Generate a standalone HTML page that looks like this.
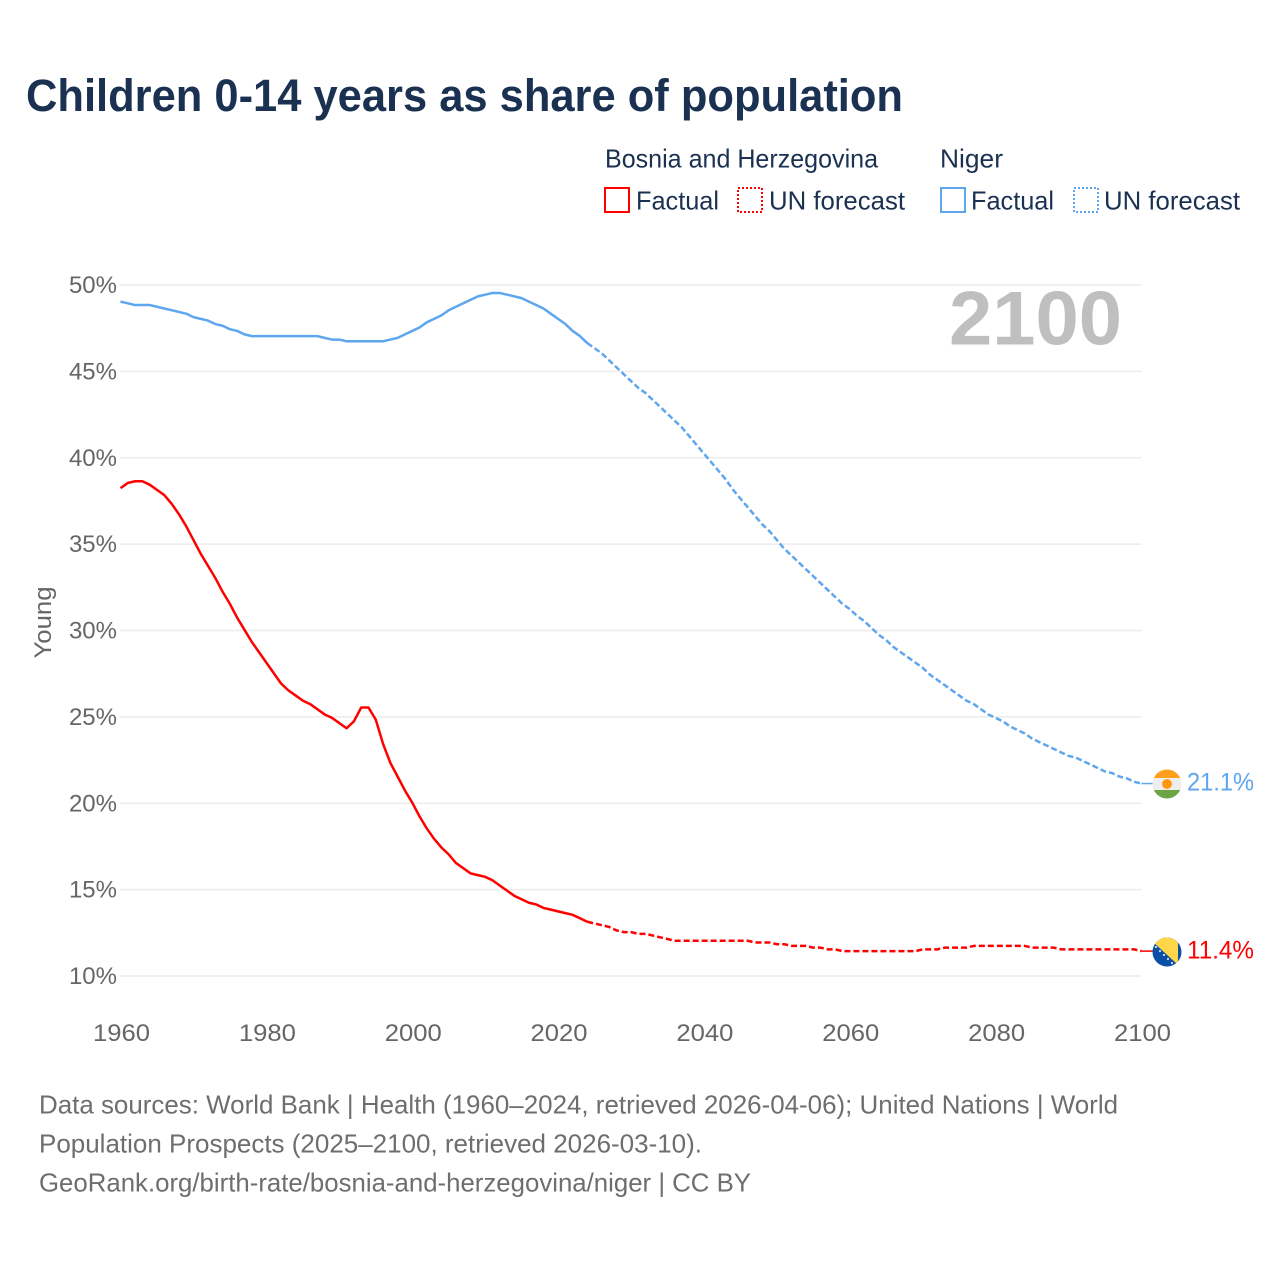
<!DOCTYPE html>
<html lang="en">
<head>
<meta charset="utf-8">
<title>Children 0-14 years as share of population</title>
<style>
html,body{margin:0;padding:0;background:#fff;}
svg{display:block;font-family:"Liberation Sans",Arial,sans-serif;}
</style>
</head>
<body>
<svg id="chart" xmlns="http://www.w3.org/2000/svg" width="1280" height="1280" viewBox="0 0 1280 1280">
  <rect width="1280" height="1280" fill="#ffffff"/>
  <text x="26" y="111" font-size="45" font-weight="700" fill="#1a3152" textLength="877" lengthAdjust="spacingAndGlyphs">Children 0-14 years as share of population</text>

  <g font-size="26" fill="#1a3152">
    <text x="605" y="167.5" textLength="273" lengthAdjust="spacingAndGlyphs">Bosnia and Herzegovina</text>
    <text x="940" y="167.5" textLength="63" lengthAdjust="spacingAndGlyphs">Niger</text>
    <rect x="605" y="188" width="24" height="24" fill="none" stroke="#ff0000" stroke-width="2"/>
    <text x="636" y="209.5" textLength="83" lengthAdjust="spacingAndGlyphs">Factual</text>
    <rect x="738" y="188" width="24" height="24" fill="none" stroke="#ff0000" stroke-width="2" stroke-dasharray="2 2"/>
    <text x="769" y="209.5" textLength="136" lengthAdjust="spacingAndGlyphs">UN forecast</text>
    <rect x="941" y="188" width="24" height="24" fill="none" stroke="#5ea6ee" stroke-width="2"/>
    <text x="971" y="209.5" textLength="83" lengthAdjust="spacingAndGlyphs">Factual</text>
    <rect x="1074" y="188" width="24" height="24" fill="none" stroke="#5ea6ee" stroke-width="2" stroke-dasharray="2 2"/>
    <text x="1104" y="209.5" textLength="136" lengthAdjust="spacingAndGlyphs">UN forecast</text>
  </g>

  <g id="grid"></g>
  <g id="yticks"></g>
  <g id="xticks"></g>
  <text transform="translate(51 622.5) rotate(-90)" text-anchor="middle" font-size="24" fill="#666666" textLength="72" lengthAdjust="spacingAndGlyphs">Young</text>
  <text x="949" y="344.5" font-size="76" font-weight="700" fill="#bfbfbf" textLength="173" lengthAdjust="spacingAndGlyphs">2100</text>

  <g id="series"></g>

  <defs>
    <clipPath id="flag-clip-niger"><circle cx="1167" cy="784" r="14.5"/></clipPath>
    <clipPath id="flag-clip-bosnia"><circle cx="1167" cy="952" r="14.5"/></clipPath>
  </defs>
  <g clip-path="url(#flag-clip-niger)">
    <rect x="1152" y="769" width="30" height="9" fill="#ff9f1c"/>
    <rect x="1152" y="778" width="30" height="12" fill="#eeeeee"/>
    <rect x="1152" y="790" width="30" height="9" fill="#6da544"/>
    <circle cx="1167" cy="784" r="5" fill="#ff9811"/>
  </g>
  <g clip-path="url(#flag-clip-bosnia)">
    <rect x="1152" y="937" width="30" height="30" fill="#0a4fa8"/>
    <polygon points="1153,937 1178,937 1178,964 1177,964 1153,942" fill="#ffd648"/>
    <g fill="#ffffff">
      <circle cx="1156" cy="947" r="1"/><circle cx="1160" cy="951" r="1"/><circle cx="1164" cy="955" r="1"/>
      <circle cx="1168" cy="959" r="1"/><circle cx="1172" cy="963" r="1"/>
    </g>
  </g>
  <g id="end-labels"></g>

  <g font-size="26" fill="#6e6e6e">
    <text x="39" y="1113.5" textLength="1079" lengthAdjust="spacingAndGlyphs">Data sources: World Bank | Health (1960–2024, retrieved 2026-04-06); United Nations | World</text>
    <text x="39" y="1152.5" textLength="663" lengthAdjust="spacingAndGlyphs">Population Prospects (2025–2100, retrieved 2026-03-10).</text>
    <text x="39" y="1191.5" textLength="712" lengthAdjust="spacingAndGlyphs">GeoRank.org/birth-rate/bosnia-and-herzegovina/niger | CC BY</text>
  </g>
</svg>
<script>
const startYear = 1960;
const lastFactualYear = 2024;
const yTickValues = [10, 15, 20, 25, 30, 35, 40, 45, 50];
const xTickYears = [1960, 1980, 2000, 2020, 2040, 2060, 2080, 2100];

const bosniaValues = [
38.2,38.5,38.6,38.6,38.4,38.1,37.8,37.3,36.7,36.0,
35.2,34.4,33.7,33.0,32.2,31.5,30.7,30.0,29.3,28.7,
28.1,27.5,26.9,26.5,26.2,25.9,25.7,25.4,25.1,24.9,
24.6,24.3,24.7,25.5,25.5,24.8,23.4,22.3,21.5,20.7,
20.0,19.2,18.5,17.9,17.4,17.0,16.5,16.2,15.9,15.8,
15.7,15.5,15.2,14.9,14.6,14.4,14.2,14.1,13.9,13.8,
13.7,13.6,13.5,13.3,13.1,13.0,12.9,12.8,12.6,12.5,
12.5,12.4,12.4,12.3,12.2,12.1,12.0,12.0,12.0,12.0,
12.0,12.0,12.0,12.0,12.0,12.0,12.0,11.9,11.9,11.9,
11.8,11.8,11.7,11.7,11.7,11.6,11.6,11.5,11.5,11.4,
11.4,11.4,11.4,11.4,11.4,11.4,11.4,11.4,11.4,11.4,
11.5,11.5,11.5,11.6,11.6,11.6,11.6,11.7,11.7,11.7,
11.7,11.7,11.7,11.7,11.7,11.6,11.6,11.6,11.6,11.5,
11.5,11.5,11.5,11.5,11.5,11.5,11.5,11.5,11.5,11.5,11.4];

const nigerValues = [
49.0,48.9,48.8,48.8,48.8,48.7,48.6,48.5,48.4,48.3,
48.1,48.0,47.9,47.7,47.6,47.4,47.3,47.1,47.0,47.0,
47.0,47.0,47.0,47.0,47.0,47.0,47.0,47.0,46.9,46.8,
46.8,46.7,46.7,46.7,46.7,46.7,46.7,46.8,46.9,47.1,
47.3,47.5,47.8,48.0,48.2,48.5,48.7,48.9,49.1,49.3,
49.4,49.5,49.5,49.4,49.3,49.2,49.0,48.8,48.6,48.3,
48.0,47.7,47.3,47.0,46.6,46.3,46.0,45.6,45.2,44.8,
44.4,44.0,43.7,43.3,42.9,42.5,42.1,41.7,41.2,40.7,
40.2,39.7,39.2,38.7,38.1,37.6,37.1,36.6,36.1,35.7,
35.2,34.7,34.3,33.9,33.5,33.1,32.7,32.3,31.9,31.5,
31.2,30.8,30.5,30.1,29.7,29.4,29.0,28.7,28.4,28.1,
27.8,27.4,27.1,26.8,26.5,26.2,25.9,25.7,25.4,25.1,
24.9,24.7,24.4,24.2,24.0,23.7,23.5,23.3,23.1,22.9,
22.7,22.6,22.4,22.2,22.0,21.8,21.7,21.5,21.4,21.2,21.1];

const SVGNS = 'http://www.w3.org/2000/svg';
function xScale(year){ return 120.5 + (year - 1960) * (1021 / 140); }
function yScale(v){ return 976 - (v - 10) * (691 / 40); }
function lineY(v){ return yScale(v) - 0.7; }

function make(tag, attrs, parent, txt){
  const el = document.createElementNS(SVGNS, tag);
  for (const k in attrs) el.setAttribute(k, attrs[k]);
  if (txt !== undefined) el.textContent = txt;
  parent.appendChild(el);
  return el;
}

const grid = document.getElementById('grid');
const yticks = document.getElementById('yticks');
yTickValues.forEach(function(v){
  const line = make('line', {x1:120, x2:1141.5, y1:yScale(v), y2:yScale(v), stroke:'#ececec', 'stroke-width':1.5}, grid);
  
  
  const t = make('text', {x:117, y:yScale(v)+8, 'text-anchor':'end', 'font-size':24, fill:'#666666'}, yticks, v + '%');
  
  
});

const xticks = document.getElementById('xticks');
xTickYears.forEach(function(y){
  const t = make('text', {x:xScale(y)+1, y:1041, 'text-anchor':'middle', 'font-size':24, fill:'#666666', textLength:57, lengthAdjust:'spacingAndGlyphs'}, xticks, String(y));
  
  
});

function pathFor(values, fromYear, toYear){
  const pts = [];
  for (let y = fromYear; y <= toYear; y++){
    pts.push(xScale(y).toFixed(2) + ',' + lineY(values[y - startYear]).toFixed(2));
  }
  return 'M' + pts.join('L');
}

const seriesGroup = document.getElementById('series');
function drawSeries(name, values, color, flagX){
  const lastYear = startYear + values.length - 1;
  const solid = make('path', {d:pathFor(values, startYear, lastFactualYear), fill:'none', stroke:color, 'stroke-width':2.5, 'stroke-linejoin':'round'}, seriesGroup);
  
  
  const dash = make('path', {d:pathFor(values, lastFactualYear, lastYear), fill:'none', stroke:color, 'stroke-width':2.5, 'stroke-dasharray':'6 3', 'stroke-linejoin':'round'}, seriesGroup);
  
  
  const endY = lineY(values[values.length - 1]);
  const leader = make('line', {x1:xScale(lastYear), x2:flagX, y1:endY, y2:endY, stroke:color, 'stroke-width':1.5}, seriesGroup);
  
  
}
drawSeries('bosnia', bosniaValues, '#ff0000', 1153);
drawSeries('niger', nigerValues, '#5ea6ee', 1153);

const endLabels = document.getElementById('end-labels');
function drawEndLabel(name, values, color){
  const v = values[values.length - 1];
  const t = make('text', {x:1187, y:yScale(v)+6.5, 'font-size':25, fill:color, textLength:67, lengthAdjust:'spacingAndGlyphs'}, endLabels, v.toFixed(1) + '%');
  
  
}
drawEndLabel('bosnia', bosniaValues, '#ff0000');
drawEndLabel('niger', nigerValues, '#5ea6ee');
</script>
</body>
</html>
